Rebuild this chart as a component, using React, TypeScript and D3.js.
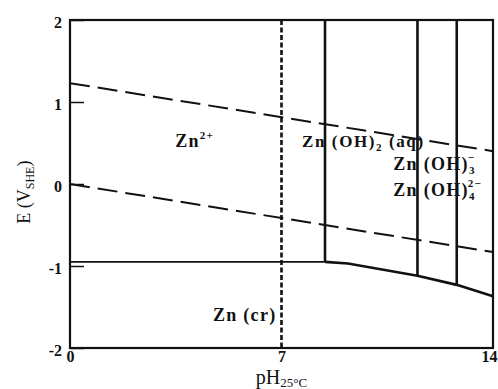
import React, { useEffect, useRef } from "react";
import * as d3 from "d3";

// axis ticks
const phTicks = [0, 7, 14];
const eTicks = [2, 1, 0, -1, -2];

// water stability lines (dashed)
const oxygenPH = [0, 14];
const oxygenE = [1.23, 0.4];
const hydrogenPH = [0, 14];
const hydrogenE = [0, -0.83];

// Zn / Zn(II) boundary
const znFlatPH = [0, 8.44];
const znFlatE = [-0.95, -0.95];
const znSlopePH = [8.44, 9.2, 11.5, 12.8, 14];
const znSlopeE = [-0.95, -0.97, -1.12, -1.23, -1.37];

// vertical boundaries between Zn(II) species
const dividerPH = [8.44, 11.5, 12.8];
const dividerBottomE = [-0.95, -1.12, -1.23];
const neutralPH = 7;

// species labels: [text, position] with position "" | "sub" | "sup" | "supOver"
const speciesLabels: [string, string][][] = [
    [["Zn", ""], ["2+", "sup"]],
    [["Zn (OH)", ""], ["2", "sub"], [" (aq)", ""]],
    [["Zn (OH)", ""], ["3", "sub"], ["−", "supOver"]],
    [["Zn (OH)", ""], ["4", "sub"], ["2−", "supOver"]],
    [["Zn (cr)", ""]],
];
const speciesPH = [3.48, 7.68, 10.7, 10.7, 4.73];
const speciesE = [0.45, 0.452, 0.165, -0.148, -1.67];

function App() {
    const ref = useRef<SVGSVGElement>(null);
    useEffect(() => {
        const w = 498;
        const h = 389;
        const m = { top: 20, right: 5, bottom: 41, left: 70 };
        const svg = d3.select(ref.current);
        svg.selectAll("*").remove();
        svg.attr("width", w).attr("height", h).style("background", "#fff");

        const x = d3.scaleLinear().domain([0, 14]).range([m.left, w - m.right]);
        const y = d3.scaleLinear().domain([-2, 2]).range([h - m.bottom, m.top]);
        const font = "'Liberation Serif', 'Times New Roman', serif";
        const ink = "#111";

        const line = d3
            .line<[number, number]>()
            .x(d => x(d[0]))
            .y(d => y(d[1]));
        const zip = (a: number[], b: number[]) => a.map((v, i) => [v, b[i]] as [number, number]);

        // frame
        svg.append("rect")
            .attr("x", x(0))
            .attr("y", y(2))
            .attr("width", x(14) - x(0))
            .attr("height", y(-2) - y(2))
            .attr("fill", "none")
            .attr("stroke", ink)
            .attr("stroke-width", 2.2);

        // axes
        const yAxis = d3
            .axisLeft(y)
            .tickValues(eTicks)
            .tickSize(-14)
            .tickPadding(8)
            .tickFormat(d => String(d));
        const gy = svg.append("g").attr("transform", `translate(${m.left},0)`).call(yAxis);
        gy.select(".domain").remove();
        gy.selectAll("line").attr("stroke", ink).attr("stroke-width", 1.5);
        gy.selectAll("text").attr("dy", "0.45em").attr("fill", ink);

        const xAxis = d3
            .axisBottom(x)
            .tickValues(phTicks)
            .tickSize(0)
            .tickPadding(3)
            .tickFormat(d => String(d));
        const gx = svg.append("g").attr("transform", `translate(0,${h - m.bottom})`).call(xAxis);
        gx.select(".domain").remove();
        gx.selectAll("text").attr("fill", ink);
        // last label sits against the right edge
        gx.selectAll<SVGTextElement, number>("text")
            .filter(d => d === 14)
            .attr("text-anchor", "end")
            .attr("x", w - 1 - x(14));

        svg.selectAll("g.tick text")
            .attr("font-family", font)
            .attr("font-size", 16)
            .attr("font-weight", "bold");

        // dashed water lines
        svg.selectAll(".water")
            .data([zip(oxygenPH, oxygenE), zip(hydrogenPH, hydrogenE)])
            .join("path")
            .attr("class", "water")
            .attr("d", d => line(d))
            .attr("fill", "none")
            .attr("stroke", ink)
            .attr("stroke-width", 2)
            .attr("stroke-dasharray", "20,8");

        // neutral pH dotted line
        svg.append("line")
            .attr("x1", x(neutralPH))
            .attr("x2", x(neutralPH))
            .attr("y1", y(2))
            .attr("y2", y(-2))
            .attr("stroke", ink)
            .attr("stroke-width", 2.6)
            .attr("stroke-dasharray", "5,2.5");

        // Zn boundary
        svg.append("path")
            .attr("d", line(zip(znFlatPH, znFlatE)))
            .attr("fill", "none")
            .attr("stroke", ink)
            .attr("stroke-width", 1.6);
        svg.append("path")
            .attr("d", line(zip(znSlopePH, znSlopeE)))
            .attr("fill", "none")
            .attr("stroke", ink)
            .attr("stroke-width", 2.6);

        // species dividers
        svg.selectAll(".divider")
            .data(dividerPH)
            .join("line")
            .attr("class", "divider")
            .attr("x1", d => x(d))
            .attr("x2", d => x(d))
            .attr("y1", y(2))
            .attr("y2", (d, i) => y(dividerBottomE[i]))
            .attr("stroke", ink)
            .attr("stroke-width", 2.6);

        // species labels
        speciesLabels.forEach((parts, i) => {
            const t = svg
                .append("text")
                .attr("x", x(speciesPH[i]))
                .attr("y", y(speciesE[i]))
                .attr("font-family", font)
                .attr("font-size", i === 1 ? 17 : 18)
                .attr("font-weight", "bold")
                .attr("letter-spacing", i === 1 ? 1.6 : 1.3)
                .attr("fill", ink);
            let shift = 0;
            parts.forEach(([s, kind]) => {
                const target = kind === "sub" ? 4 : kind === "sup" ? -8 : kind === "supOver" ? -9 : 0;
                const sp = t.append("tspan").attr("dy", target - shift).text(s);
                if (kind !== "") sp.attr("font-size", 11);
                if (kind === "supOver") sp.attr("dx", -8);
                shift = target;
            });
        });

        // axis titles
        const yt = svg
            .append("text")
            .attr("transform", `translate(30,${y(-0.1)}) rotate(-90)`)
            .attr("text-anchor", "middle")
            .attr("font-family", font)
            .attr("font-size", 18)
            .attr("fill", ink);
        yt.append("tspan").text("E (V");
        yt.append("tspan").attr("font-size", 12).attr("dy", 4).text("SHE");
        yt.append("tspan").attr("dy", -4).text(")");

        const xt = svg
            .append("text")
            .attr("x", x(neutralPH))
            .attr("y", h - 5)
            .attr("text-anchor", "middle")
            .attr("font-family", font)
            .attr("font-size", 20)
            .attr("fill", ink);
        xt.append("tspan").text("pH");
        xt.append("tspan").attr("font-size", 13).attr("dy", 3).text("25°C");
    }, []);

    return <svg ref={ref} style={{ position: "absolute", left: 0, top: 0, display: "block" }} />;
}

export default App;
